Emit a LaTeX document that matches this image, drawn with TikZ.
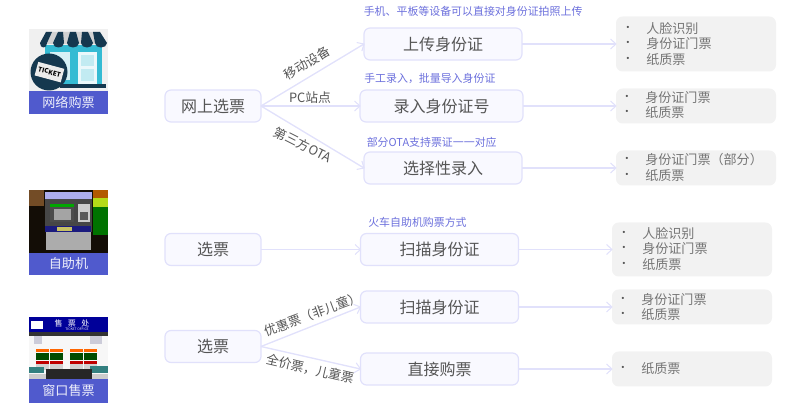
\documentclass[tikz,border=0pt]{standalone}
\usepackage{fontspec}
\setmainfont{Noto Sans CJK SC}
\definecolor{boxfill}{HTML}{F9F9FF}
\definecolor{boxline}{HTML}{E1E1FB}
\definecolor{txt}{HTML}{555555}
\definecolor{listtxt}{HTML}{757575}
\definecolor{cap}{HTML}{6C70DC}
\definecolor{graybox}{HTML}{F2F2F2}
\definecolor{bar}{HTML}{505ACD}
\definecolor{navy}{HTML}{15384F}
\definecolor{teal1}{HTML}{35BBD3}
\tikzset{
  flowbox/.style={draw=boxline,fill=boxfill,line width=0.9pt,rounded corners=4.5pt,outer sep=0pt,inner sep=0pt,minimum height=24pt,text=txt,font=\fontsize{12}{14}\selectfont},
  listbox/.style={fill=graybox,rounded corners=5pt,outer sep=0pt,inner sep=0pt,minimum width=120pt},
  litem/.style={anchor=west,inner sep=0pt,text=listtxt,font=\fontsize{9.8}{12}\selectfont},
  bul/.style={inner sep=0pt,text=txt,font=\fontsize{8}{9}\selectfont},
  capt/.style={anchor=west,inner sep=0pt,text=cap,font=\fontsize{8.2}{10}\selectfont},
  lbl/.style={inner sep=0pt,text=txt,font=\fontsize{9.6}{11}\selectfont},
  imglabel/.style={fill=bar,text=white!90!bar,inner sep=0pt,outer sep=0pt,minimum width=59.25pt,font=\fontsize{9.8}{11}\selectfont},
  conn/.style={draw=boxline,line width=1pt},
  barb/.pic={\draw[draw=boxline,line width=0.8pt,line join=round] (-5.5,-5) -- (0,0) -- (-5.5,5);}
}
\begin{document}
\begin{tikzpicture}[x=0.75pt,y=-0.75pt]
\useasboundingbox (0,0) rectangle (800,420);
% ---------- shop picture
\fill[gray!12] (29,29) rectangle (108,91);
\fill[teal1] (45,45) rectangle (102,84);
\fill[white!80!teal1] (50,52) rectangle (70,80);
\fill[white!90!teal1] (78,52) rectangle (97,84);
\fill[white!70!teal1] (81,55) rectangle (94,66);
\fill[white!70!teal1] (81,69) rectangle (94,81);
\fill[navy] (60,84) rectangle (106,88);
\fill[gray!35] (46,32) -- (100,32) -- (106,44) -- (41,44) -- cycle;
\foreach \ta/\tb/\ba/\bb in {46/52/40/47,58/63/53/64,70/76/67/79,82/88/81/93,93/100/95/107}{
  \fill[navy] (\ta,32) -- (\tb,32) -- (\bb,43) .. controls (\bb,49) and (\ba,49) .. (\ba,43) -- cycle;
}
\fill[navy] (49,72) circle (18.5);
\fill[white!85!gray,rotate around={-15:(49,72)}] (36,65) rectangle (63,79);
\node[rotate=-15,text=black,inner sep=0pt,font=\fontsize{4.8}{5}\selectfont\bfseries] (shopticket) at (49.5,72) {TICKET};
\node[imglabel,minimum height=17.25pt] (online) at (68.5,102.5) {网络购票};
% ---------- ATM picture
\fill[black!90!brown] (29,190) rectangle (108,253);
\fill[brown!60!black] (29,190) rectangle (44,206);
\fill[green!45!black] (93,207) rectangle (108,235);
\fill[yellow!70!green] (93,198) rectangle (108,207);
\fill[orange!70!black] (93,190) rectangle (108,198);
\fill[gray!55!black] (45,193) rectangle (92,232);
\fill[gray!40!blue!40!white] (45,192) rectangle (92,199);
\fill[green!65!black] (50,204) rectangle (74,207);
\fill[gray!60!black] (50,207) rectangle (74,222);
\fill[gray!25!white,opacity=.6] (54,209) rectangle (71,220);
\fill[gray!40] (78,204) rectangle (90,222);
\fill[gray!70!black] (80,212) rectangle (88,220);
\fill[gray!35!blue!60!black] (45,226) rectangle (91,232);
\fill[yellow!50!gray] (57,227) rectangle (72,231);
\fill[gray!65] (46,232) rectangle (91,250);
\node[imglabel,minimum height=16.5pt] (kiosk) at (68.5,264) {自助机};
% ---------- ticket office picture
\fill[white!94!gray] (29,317) rectangle (108,380);
\fill[blue!60!black] (29,317) rectangle (108,332);
\fill[black!80] (29,332) rectangle (108,336);
\fill[white] (31,321) rectangle (43,329);
\fill[blue!15!gray!35] (34,336) rectangle (42,344);
\fill[blue!15!gray!35] (90,336) rectangle (102,344);
\foreach \a in {36,50,70,84}{
  \fill[orange!80!red] (\a,349) rectangle (\a+13,352);
  \fill[green!30!black] (\a,353) rectangle (\a+13,360);
  \fill[red!75!black] (\a,361) rectangle (\a+13,364);
  \fill[gray!35] (\a,364) rectangle (\a+13,370);
}
\fill[teal!60!gray] (29,367) rectangle (44,373);
\fill[teal!60!gray] (90,366) rectangle (108,373);
\fill[black!85] (46,369) rectangle (92,380);
\fill[gray!40] (29,374) rectangle (46,380);
\fill[gray!40] (92,374) rectangle (108,380);
\node[text=white,inner sep=0pt,font=\fontsize{6}{7}\selectfont] (sign) at (72,323) {售\ \ \ 票\ \ \ 处};
\node[text=white,inner sep=0pt,font=\fontsize{2.5}{3}\selectfont] (signen) at (77,329.5) {TICKET OFFICE};
\node[imglabel,minimum height=17.25pt] (window) at (68.5,391) {窗口售票};
% ---------- flow boxes
\node[flowbox,minimum width=72pt] (a1) at (213,106) {网上选票};
\node[flowbox,minimum width=118.5pt] (b1) at (443,44) {上传身份证};
\node[flowbox,minimum width=122.25pt] (b2) at (441.5,106) {录入身份证号};
\node[flowbox,minimum width=118.5pt] (b3) at (443,168) {选择性录入};
\node[flowbox,minimum width=72pt] (a2) at (213,249.5) {选票};
\node[flowbox,minimum width=118.5pt] (b4) at (439.5,249.5) {扫描身份证};
\node[flowbox,minimum width=72pt] (a3) at (213,346.5) {选票};
\node[flowbox,minimum width=118.5pt] (b5) at (439.5,307) {扫描身份证};
\node[flowbox,minimum width=118.5pt] (b6) at (439.5,369) {直接购票};
% ---------- gray lists
\node[listbox,minimum height=41.25pt] (c1) at (696,44) {};
\node[listbox,minimum height=26.25pt] (c2) at (696,106) {};
\node[listbox,minimum height=26.25pt] (c3) at (696,168) {};
\node[listbox,minimum height=40.5pt] (c4) at (692,249.5) {};
\node[listbox,minimum height=26.25pt] (c5) at (692,307) {};
\node[listbox,minimum height=26.25pt] (c6) at (692,369) {};
% list 1
\node[bul] (c1b1) at (628,29) {•}; \node[litem] (c1t1) at (646,29) {人脸识别};
\node[bul] (c1b2) at (628,44) {•}; \node[litem] (c1t2) at (646,44) {身份证门票};
\node[bul] (c1b3) at (628,60) {•}; \node[litem] (c1t3) at (646,60) {纸质票};
% list 2
\node[bul] (c2b1) at (627,98) {•}; \node[litem] (c2t1) at (645,98) {身份证门票};
\node[bul] (c2b2) at (627,113) {•}; \node[litem] (c2t2) at (645,113) {纸质票};
% list 3
\node[bul] (c3b1) at (627,160) {•}; \node[litem] (c3t1) at (645,160) {身份证门票（部分）};
\node[bul] (c3b2) at (627,176) {•}; \node[litem] (c3t2) at (645,176) {纸质票};
% list 4
\node[bul] (c4b1) at (624,234) {•}; \node[litem] (c4t1) at (642,234) {人脸识别};
\node[bul] (c4b2) at (624,249) {•}; \node[litem] (c4t2) at (642,249) {身份证门票};
\node[bul] (c4b3) at (624,265) {•}; \node[litem] (c4t3) at (642,265) {纸质票};
% list 5
\node[bul] (c5b1) at (623,300) {•}; \node[litem] (c5t1) at (641,300) {身份证门票};
\node[bul] (c5b2) at (623,315) {•}; \node[litem] (c5t2) at (641,315) {纸质票};
% list 6
\node[bul] (c6b1) at (623,369) {•}; \node[litem] (c6t1) at (641,369) {纸质票};
% ---------- connectors
\draw[conn] (a1.east) -- pic[pos=1,sloped]{barb} (b1.west);
\draw[conn] (a1.east) -- pic[pos=1,sloped]{barb} (b2.west);
\draw[conn] (a1.east) -- pic[pos=1,sloped]{barb} (b3.west);
\draw[conn] (a2.east) -- pic[pos=1,sloped]{barb} (b4.west);
\draw[conn] (a3.east) -- pic[pos=1,sloped]{barb} (b5.west);
\draw[conn] (a3.east) -- pic[pos=1,sloped]{barb} (b6.west);
\draw[conn] (b1.east) -- pic[pos=1,sloped]{barb} (c1.west);
\draw[conn] (b2.east) -- pic[pos=1,sloped]{barb} (c2.west);
\draw[conn] (b3.east) -- pic[pos=1,sloped]{barb} (c3.west);
\draw[conn] (b4.east) -- pic[pos=1,sloped]{barb} (c4.west);
\draw[conn] (b5.east) -- pic[pos=1,sloped]{barb} (c5.west);
\draw[conn] (b6.east) -- pic[pos=1,sloped]{barb} (c6.west);
% ---------- connector labels
\node[lbl,rotate=31] (l1) at (307,63) {移动设备};
\node[lbl] (l2) at (310,98) {PC站点};
\node[lbl,rotate=-27] (l3) at (303,145) {第三方OTA};
\node[lbl,rotate=20.5] (l4) at (313,314) {优惠票（非儿童）};
\node[lbl,rotate=-13] (l5) at (310,369) {全价票，儿童票};
% ---------- captions
\node[capt] (t1) at (363.5,11) {手机、平板等设备可以直接对身份证拍照上传};
\node[capt] (t2) at (364,78) {手工录入，批量导入身份证};
\node[capt] (t3) at (366.5,142) {部分OTA支持票证一一对应};
\node[capt] (t4) at (368,222) {火车自助机购票方式};
\end{tikzpicture}
\end{document}
